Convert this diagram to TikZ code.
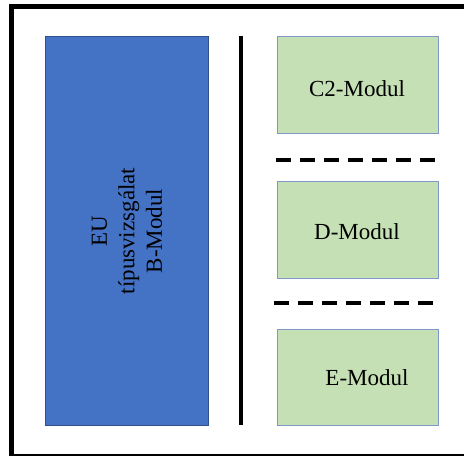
\documentclass[tikz,border=0pt]{standalone}
\usepackage{fontspec}
\setmainfont{Liberation Serif}
\definecolor{bluefill}{HTML}{4472C4}
\definecolor{blueline}{HTML}{2F528F}
\definecolor{greenfill}{HTML}{C5E0B4}
\definecolor{greenline}{HTML}{7F98C8}
\begin{document}
\begin{tikzpicture}[x=1pt,y=-1pt,
  modbox/.style={draw=greenline,fill=greenfill,line width=1pt},
  bbox/.style={draw=blueline,fill=bluefill,line width=1pt},
  lbl/.style={font=\fontsize{23}{27.5}\selectfont,text=black,inner sep=0pt,align=center},
  sep/.style={line width=4.5pt,dash pattern=on 14.5pt off 9.5pt},
  frameline/.style={line width=5pt}]
\useasboundingbox (0,0) rectangle (464,456);
\fill[white] (0,0) rectangle (464,456);
% frame
\coordinate (ftl) at (11,6.5);
\coordinate (fbl) at (11,456);
\coordinate (ftr) at (466,6.5);
\draw[frameline] (fbl) -- (ftl) -- (ftr);
\coordinate (bl) at (9,455);
\coordinate (br) at (464,455);
\draw[line width=2pt] (bl) -- (br);
% blue box
\draw[bbox] (45,36) rectangle (208,425);
\node[lbl,rotate=90] (b) at (127,231) {EU\\típusvizsgálat\\B-Modul};
% vertical line
\coordinate (vt) at (241,36);
\coordinate (vb) at (241,425);
\draw[line width=4pt] (vt) -- (vb);
% green boxes
\draw[modbox] (277,36) rectangle (438,133);
\node[lbl] (c2) at (357,89) {C2-Modul};
\draw[modbox] (277,181) rectangle (438,278);
\node[lbl] (d) at (357,232) {D-Modul};
\draw[modbox] (277,329) rectangle (438,425);
\node[lbl] (e) at (367,378) {E-Modul};
% dashed separators
\coordinate (s1a) at (276,160);
\coordinate (s1b) at (436,160);
\draw[sep] (s1a) -- (s1b);
\coordinate (s2a) at (274,303);
\coordinate (s2b) at (434,303);
\draw[sep] (s2a) -- (s2b);
\end{tikzpicture}
\end{document}
